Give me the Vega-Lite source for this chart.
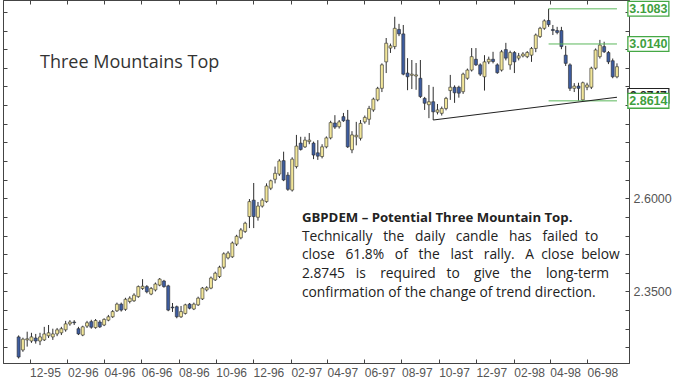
{
  "$schema": "https://vega.github.io/schema/vega-lite/v6.json",
  "width": 626,
  "height": 363,
  "autosize": {"type": "none"},
  "padding": {"left": 3, "top": 0, "right": 71, "bottom": 19},
  "background": "white",
  "config": {"view": {"stroke": "#444", "strokeWidth": 1}, "font": "Liberation Sans"},
  "datasets": {
    "candles": [
      {"d":"1995-11-13","o":2.228,"h":2.232,"l":2.170,"c":2.174},
      {"d":"1995-11-20","o":2.193,"h":2.226,"l":2.188,"c":2.222},
      {"d":"1995-11-27","o":2.220,"h":2.242,"l":2.202,"c":2.223},
      {"d":"1995-12-04","o":2.217,"h":2.239,"l":2.212,"c":2.228},
      {"d":"1995-12-11","o":2.225,"h":2.236,"l":2.210,"c":2.217},
      {"d":"1995-12-18","o":2.217,"h":2.239,"l":2.206,"c":2.228},
      {"d":"1995-12-25","o":2.220,"h":2.255,"l":2.217,"c":2.236},
      {"d":"1996-01-01","o":2.231,"h":2.260,"l":2.225,"c":2.239},
      {"d":"1996-01-08","o":2.228,"h":2.250,"l":2.220,"c":2.236},
      {"d":"1996-01-15","o":2.236,"h":2.252,"l":2.230,"c":2.247},
      {"d":"1996-01-22","o":2.239,"h":2.255,"l":2.233,"c":2.250},
      {"d":"1996-01-29","o":2.247,"h":2.271,"l":2.242,"c":2.263},
      {"d":"1996-02-05","o":2.263,"h":2.273,"l":2.258,"c":2.268},
      {"d":"1996-02-12","o":2.268,"h":2.273,"l":2.260,"c":2.266},
      {"d":"1996-02-19","o":2.250,"h":2.255,"l":2.233,"c":2.236},
      {"d":"1996-02-26","o":2.233,"h":2.258,"l":2.230,"c":2.255},
      {"d":"1996-03-04","o":2.257,"h":2.271,"l":2.252,"c":2.266},
      {"d":"1996-03-11","o":2.269,"h":2.274,"l":2.250,"c":2.254},
      {"d":"1996-03-18","o":2.253,"h":2.276,"l":2.250,"c":2.272},
      {"d":"1996-03-25","o":2.268,"h":2.273,"l":2.252,"c":2.255},
      {"d":"1996-04-01","o":2.260,"h":2.278,"l":2.257,"c":2.275},
      {"d":"1996-04-08","o":2.273,"h":2.287,"l":2.270,"c":2.282},
      {"d":"1996-04-15","o":2.282,"h":2.300,"l":2.279,"c":2.296},
      {"d":"1996-04-22","o":2.298,"h":2.320,"l":2.295,"c":2.316},
      {"d":"1996-04-29","o":2.316,"h":2.320,"l":2.296,"c":2.300},
      {"d":"1996-05-06","o":2.302,"h":2.333,"l":2.298,"c":2.329},
      {"d":"1996-05-13","o":2.323,"h":2.337,"l":2.318,"c":2.332},
      {"d":"1996-05-20","o":2.325,"h":2.345,"l":2.322,"c":2.340},
      {"d":"1996-05-27","o":2.336,"h":2.366,"l":2.333,"c":2.363},
      {"d":"1996-06-03","o":2.358,"h":2.383,"l":2.354,"c":2.364},
      {"d":"1996-06-10","o":2.363,"h":2.367,"l":2.345,"c":2.349},
      {"d":"1996-06-17","o":2.343,"h":2.362,"l":2.340,"c":2.358},
      {"d":"1996-06-24","o":2.354,"h":2.374,"l":2.350,"c":2.370},
      {"d":"1996-07-01","o":2.367,"h":2.386,"l":2.364,"c":2.383},
      {"d":"1996-07-08","o":2.378,"h":2.381,"l":2.360,"c":2.363},
      {"d":"1996-07-15","o":2.365,"h":2.368,"l":2.297,"c":2.300},
      {"d":"1996-07-22","o":2.308,"h":2.319,"l":2.295,"c":2.306},
      {"d":"1996-07-29","o":2.309,"h":2.312,"l":2.278,"c":2.282},
      {"d":"1996-08-05","o":2.282,"h":2.311,"l":2.279,"c":2.296},
      {"d":"1996-08-12","o":2.291,"h":2.317,"l":2.288,"c":2.314},
      {"d":"1996-08-19","o":2.316,"h":2.319,"l":2.302,"c":2.305},
      {"d":"1996-08-26","o":2.303,"h":2.320,"l":2.300,"c":2.316},
      {"d":"1996-09-02","o":2.314,"h":2.336,"l":2.311,"c":2.332},
      {"d":"1996-09-09","o":2.330,"h":2.362,"l":2.327,"c":2.359},
      {"d":"1996-09-16","o":2.354,"h":2.364,"l":2.350,"c":2.360},
      {"d":"1996-09-23","o":2.359,"h":2.390,"l":2.356,"c":2.386},
      {"d":"1996-09-30","o":2.381,"h":2.403,"l":2.378,"c":2.399},
      {"d":"1996-10-07","o":2.390,"h":2.419,"l":2.386,"c":2.415},
      {"d":"1996-10-14","o":2.415,"h":2.455,"l":2.410,"c":2.451},
      {"d":"1996-10-21","o":2.440,"h":2.458,"l":2.436,"c":2.453},
      {"d":"1996-10-28","o":2.443,"h":2.484,"l":2.440,"c":2.480},
      {"d":"1996-11-04","o":2.477,"h":2.502,"l":2.472,"c":2.498},
      {"d":"1996-11-11","o":2.494,"h":2.520,"l":2.490,"c":2.515},
      {"d":"1996-11-18","o":2.511,"h":2.537,"l":2.507,"c":2.533},
      {"d":"1996-11-25","o":2.551,"h":2.598,"l":2.520,"c":2.591},
      {"d":"1996-12-02","o":2.595,"h":2.641,"l":2.520,"c":2.551},
      {"d":"1996-12-09","o":2.549,"h":2.590,"l":2.540,"c":2.579},
      {"d":"1996-12-16","o":2.579,"h":2.600,"l":2.575,"c":2.595},
      {"d":"1996-12-23","o":2.591,"h":2.640,"l":2.588,"c":2.633},
      {"d":"1996-12-30","o":2.627,"h":2.650,"l":2.622,"c":2.647},
      {"d":"1997-01-06","o":2.651,"h":2.685,"l":2.640,"c":2.667},
      {"d":"1997-01-13","o":2.665,"h":2.705,"l":2.660,"c":2.700},
      {"d":"1997-01-20","o":2.701,"h":2.725,"l":2.646,"c":2.649},
      {"d":"1997-01-27","o":2.662,"h":2.670,"l":2.620,"c":2.624},
      {"d":"1997-02-03","o":2.622,"h":2.710,"l":2.618,"c":2.705},
      {"d":"1997-02-10","o":2.685,"h":2.770,"l":2.680,"c":2.740},
      {"d":"1997-02-17","o":2.748,"h":2.765,"l":2.728,"c":2.731},
      {"d":"1997-02-24","o":2.738,"h":2.765,"l":2.735,"c":2.756},
      {"d":"1997-03-03","o":2.752,"h":2.775,"l":2.745,"c":2.756},
      {"d":"1997-03-10","o":2.748,"h":2.752,"l":2.705,"c":2.716},
      {"d":"1997-03-17","o":2.722,"h":2.756,"l":2.703,"c":2.713},
      {"d":"1997-03-24","o":2.712,"h":2.745,"l":2.707,"c":2.738},
      {"d":"1997-03-31","o":2.738,"h":2.766,"l":2.734,"c":2.762},
      {"d":"1997-04-07","o":2.762,"h":2.808,"l":2.758,"c":2.803},
      {"d":"1997-04-14","o":2.802,"h":2.823,"l":2.786,"c":2.791},
      {"d":"1997-04-21","o":2.792,"h":2.810,"l":2.787,"c":2.805},
      {"d":"1997-04-28","o":2.819,"h":2.829,"l":2.805,"c":2.808},
      {"d":"1997-05-05","o":2.810,"h":2.837,"l":2.735,"c":2.738},
      {"d":"1997-05-12","o":2.730,"h":2.780,"l":2.721,"c":2.770},
      {"d":"1997-05-19","o":2.765,"h":2.805,"l":2.742,"c":2.769},
      {"d":"1997-05-26","o":2.761,"h":2.810,"l":2.755,"c":2.801},
      {"d":"1997-06-02","o":2.805,"h":2.822,"l":2.800,"c":2.817},
      {"d":"1997-06-09","o":2.812,"h":2.848,"l":2.797,"c":2.841},
      {"d":"1997-06-16","o":2.837,"h":2.870,"l":2.832,"c":2.866},
      {"d":"1997-06-23","o":2.864,"h":2.899,"l":2.860,"c":2.895},
      {"d":"1997-06-30","o":2.895,"h":2.962,"l":2.885,"c":2.958},
      {"d":"1997-07-07","o":2.966,"h":3.030,"l":2.936,"c":3.016},
      {"d":"1997-07-14","o":3.003,"h":3.015,"l":2.990,"c":3.009},
      {"d":"1997-07-21","o":3.007,"h":3.087,"l":3.000,"c":3.056},
      {"d":"1997-07-28","o":3.053,"h":3.068,"l":3.035,"c":3.041},
      {"d":"1997-08-04","o":3.041,"h":3.065,"l":2.930,"c":2.933},
      {"d":"1997-08-11","o":2.936,"h":2.976,"l":2.890,"c":2.926},
      {"d":"1997-08-18","o":2.930,"h":2.971,"l":2.893,"c":2.933},
      {"d":"1997-08-25","o":2.928,"h":2.963,"l":2.891,"c":2.931},
      {"d":"1997-09-01","o":2.922,"h":2.971,"l":2.869,"c":2.873},
      {"d":"1997-09-08","o":2.868,"h":2.872,"l":2.837,"c":2.855},
      {"d":"1997-09-15","o":2.851,"h":2.904,"l":2.815,"c":2.859},
      {"d":"1997-09-22","o":2.859,"h":2.899,"l":2.810,"c":2.832},
      {"d":"1997-09-29","o":2.831,"h":2.853,"l":2.825,"c":2.837},
      {"d":"1997-10-06","o":2.828,"h":2.846,"l":2.822,"c":2.841},
      {"d":"1997-10-13","o":2.841,"h":2.872,"l":2.836,"c":2.868},
      {"d":"1997-10-20","o":2.889,"h":2.931,"l":2.864,"c":2.898},
      {"d":"1997-10-27","o":2.898,"h":2.903,"l":2.856,"c":2.883},
      {"d":"1997-11-03","o":2.898,"h":2.902,"l":2.870,"c":2.882},
      {"d":"1997-11-10","o":2.886,"h":2.937,"l":2.880,"c":2.933},
      {"d":"1997-11-17","o":2.922,"h":2.948,"l":2.918,"c":2.944},
      {"d":"1997-11-24","o":2.944,"h":3.003,"l":2.940,"c":2.980},
      {"d":"1997-12-01","o":2.973,"h":3.003,"l":2.955,"c":2.958},
      {"d":"1997-12-08","o":2.958,"h":2.962,"l":2.928,"c":2.933},
      {"d":"1997-12-15","o":2.926,"h":2.984,"l":2.889,"c":2.966},
      {"d":"1997-12-22","o":2.966,"h":2.980,"l":2.960,"c":2.973},
      {"d":"1997-12-29","o":2.973,"h":2.993,"l":2.962,"c":2.967},
      {"d":"1998-01-05","o":2.958,"h":2.962,"l":2.934,"c":2.937},
      {"d":"1998-01-12","o":2.944,"h":2.998,"l":2.940,"c":2.993},
      {"d":"1998-01-19","o":2.999,"h":3.017,"l":2.970,"c":2.976},
      {"d":"1998-01-26","o":2.958,"h":2.996,"l":2.945,"c":2.991},
      {"d":"1998-02-02","o":2.991,"h":2.995,"l":2.936,"c":2.966},
      {"d":"1998-02-09","o":2.976,"h":2.990,"l":2.970,"c":2.982},
      {"d":"1998-02-16","o":2.982,"h":2.992,"l":2.978,"c":2.987},
      {"d":"1998-02-23","o":2.980,"h":2.995,"l":2.976,"c":2.991},
      {"d":"1998-03-02","o":2.984,"h":3.006,"l":2.966,"c":3.002},
      {"d":"1998-03-09","o":3.002,"h":3.042,"l":2.992,"c":3.038},
      {"d":"1998-03-16","o":3.034,"h":3.060,"l":3.030,"c":3.056},
      {"d":"1998-03-23","o":3.056,"h":3.080,"l":3.052,"c":3.076},
      {"d":"1998-03-30","o":3.077,"h":3.1083,"l":3.060,"c":3.066},
      {"d":"1998-04-06","o":3.053,"h":3.065,"l":3.038,"c":3.050},
      {"d":"1998-04-13","o":3.050,"h":3.060,"l":3.040,"c":3.045},
      {"d":"1998-04-20","o":3.050,"h":3.060,"l":3.000,"c":3.007},
      {"d":"1998-04-27","o":2.984,"h":3.009,"l":2.955,"c":2.962},
      {"d":"1998-05-04","o":2.958,"h":2.962,"l":2.888,"c":2.895},
      {"d":"1998-05-11","o":2.895,"h":2.909,"l":2.885,"c":2.901},
      {"d":"1998-05-18","o":2.901,"h":2.910,"l":2.8614,"c":2.895},
      {"d":"1998-05-25","o":2.864,"h":2.913,"l":2.8614,"c":2.910},
      {"d":"1998-06-01","o":2.898,"h":2.910,"l":2.890,"c":2.904},
      {"d":"1998-06-08","o":2.898,"h":2.953,"l":2.893,"c":2.949},
      {"d":"1998-06-15","o":2.949,"h":3.002,"l":2.945,"c":2.998},
      {"d":"1998-06-22","o":2.980,"h":3.025,"l":2.975,"c":3.011},
      {"d":"1998-06-29","o":3.007,"h":3.020,"l":2.990,"c":2.993},
      {"d":"1998-07-06","o":2.991,"h":2.995,"l":2.960,"c":2.966},
      {"d":"1998-07-13","o":2.969,"h":2.975,"l":2.922,"c":2.926},
      {"d":"1998-07-20","o":2.926,"h":2.962,"l":2.922,"c":2.953}
    ],
    "levels": [
      {"level": 3.1083, "label": "3.1083"},
      {"level": 3.0140, "label": "3.0140"},
      {"level": 2.8614, "label": "2.8614"}
    ],
    "hidden": [
      {"level": 2.8747, "label": "2.8747"}
    ],
    "trend": [
      {"d": "1997-09-22", "p": 2.810},
      {"d": "1998-07-20", "p": 2.871}
    ]
  },
  "resolve": {"axis": {"x": "independent", "y": "independent"}},
  "layer": [
    {
      "data": {"name": "candles"},
      "mark": {"type": "rule", "color": "#2e2e2e", "strokeWidth": 1},
      "encoding": {
        "x": {
          "field": "d", "type": "temporal",
          "scale": {"type": "utc", "domain": [{"year": 1995, "month": 10, "date": 26, "hours": 14, "utc": true}, {"year": 1998, "month": 7, "date": 31, "hours": 12, "utc": true}]},
          "axis": {
            "orient": "bottom", "title": null, "grid": false,
            "values": [
              {"year": 1995, "month": 12, "date": 1, "utc": true},
              {"year": 1996, "month": 2, "date": 1, "utc": true},
              {"year": 1996, "month": 4, "date": 1, "utc": true},
              {"year": 1996, "month": 6, "date": 1, "utc": true},
              {"year": 1996, "month": 8, "date": 1, "utc": true},
              {"year": 1996, "month": 10, "date": 1, "utc": true},
              {"year": 1996, "month": 12, "date": 1, "utc": true},
              {"year": 1997, "month": 2, "date": 1, "utc": true},
              {"year": 1997, "month": 4, "date": 1, "utc": true},
              {"year": 1997, "month": 6, "date": 1, "utc": true},
              {"year": 1997, "month": 8, "date": 1, "utc": true},
              {"year": 1997, "month": 10, "date": 1, "utc": true},
              {"year": 1997, "month": 12, "date": 1, "utc": true},
              {"year": 1998, "month": 2, "date": 1, "utc": true},
              {"year": 1998, "month": 4, "date": 1, "utc": true},
              {"year": 1998, "month": 6, "date": 1, "utc": true}
            ],
            "labelExpr": "utcFormat(datum.value, '%m-%y')",
            "labelAlign": "left", "labelBaseline": "top", "labelPadding": 8, "tickSize": -4,
            "tickColor": "#444", "domainColor": "#444", "labelColor": "#555",
            "labelFont": "Liberation Sans", "labelFontSize": 12,
            "labelFlush": false, "labelOverlap": false
          }
        },
        "y": {
          "field": "l", "type": "quantitative",
          "scale": {"domain": [2.158, 3.132], "zero": false, "nice": false},
          "axis": {
            "orient": "right", "title": null, "grid": false,
            "values": [2.2, 2.25, 2.3, 2.35, 2.4, 2.45, 2.5, 2.55, 2.6, 2.65, 2.7, 2.75, 2.8, 2.85, 2.9, 2.95, 3.0, 3.05, 3.1],
            "labelExpr": "(datum.value == 2.35 || datum.value == 2.6) ? format(datum.value, '.4f') : ''",
            "tickSize": -4, "labelPadding": 8,
            "tickColor": "#444", "domainColor": "#444", "labelColor": "#555",
            "labelFont": "Liberation Sans", "labelFontSize": 12.5, "labelFlush": false, "labelOverlap": false
          }
        },
        "y2": {"field": "h"}
      }
    },
    {
      "data": {"name": "candles"},
      "mark": {"type": "bar", "size": 3, "stroke": "#2b2b2b", "strokeWidth": 0.6},
      "encoding": {
        "x": {
          "field": "d", "type": "temporal",
          "scale": {"type": "utc", "domain": [{"year": 1995, "month": 10, "date": 26, "hours": 14, "utc": true}, {"year": 1998, "month": 7, "date": 31, "hours": 12, "utc": true}]},
          "axis": {
            "orient": "top", "title": null, "grid": false, "labels": false,
            "values": [
              {"year": 1995, "month": 12, "date": 1, "utc": true},
              {"year": 1996, "month": 2, "date": 1, "utc": true},
              {"year": 1996, "month": 4, "date": 1, "utc": true},
              {"year": 1996, "month": 6, "date": 1, "utc": true},
              {"year": 1996, "month": 8, "date": 1, "utc": true},
              {"year": 1996, "month": 10, "date": 1, "utc": true},
              {"year": 1996, "month": 12, "date": 1, "utc": true},
              {"year": 1997, "month": 2, "date": 1, "utc": true},
              {"year": 1997, "month": 4, "date": 1, "utc": true},
              {"year": 1997, "month": 6, "date": 1, "utc": true},
              {"year": 1997, "month": 8, "date": 1, "utc": true},
              {"year": 1997, "month": 10, "date": 1, "utc": true},
              {"year": 1997, "month": 12, "date": 1, "utc": true},
              {"year": 1998, "month": 2, "date": 1, "utc": true},
              {"year": 1998, "month": 4, "date": 1, "utc": true},
              {"year": 1998, "month": 6, "date": 1, "utc": true}
            ],
            "tickSize": -4, "tickColor": "#444", "domainColor": "#444"
          }
        },
        "y": {
          "field": "o", "type": "quantitative",
          "scale": {"domain": [2.158, 3.132], "zero": false, "nice": false},
          "axis": {
            "orient": "left", "title": null, "grid": false, "labels": false,
            "values": [2.2, 2.25, 2.3, 2.35, 2.4, 2.45, 2.5, 2.55, 2.6, 2.65, 2.7, 2.75, 2.8, 2.85, 2.9, 2.95, 3.0, 3.05, 3.1],
            "tickSize": -4, "tickColor": "#444", "domainColor": "#444"
          }
        },
        "y2": {"field": "c"},
        "fill": {"condition": {"test": "datum.c >= datum.o", "value": "#f2e69a"}, "value": "#3d5c9f"}
      }
    },
    {
      "data": {"name": "levels"},
      "mark": {"type": "rule", "color": "#5cb85c", "strokeWidth": 1},
      "encoding": {
        "x": {"datum": {"year": 1998, "month": 3, "date": 30, "utc": true}, "type": "temporal",
              "scale": {"type": "utc", "domain": [{"year": 1995, "month": 10, "date": 26, "hours": 14, "utc": true}, {"year": 1998, "month": 7, "date": 31, "hours": 12, "utc": true}]}, "axis": null},
        "x2": {"datum": {"year": 1998, "month": 7, "date": 20, "utc": true}},
        "y": {"field": "level", "type": "quantitative", "scale": {"domain": [2.158, 3.132], "zero": false, "nice": false}, "axis": null}
      }
    },
    {
      "data": {"name": "trend"},
      "mark": {"type": "line", "color": "#222", "strokeWidth": 1.2},
      "encoding": {
        "x": {"field": "d", "type": "temporal",
              "scale": {"type": "utc", "domain": [{"year": 1995, "month": 10, "date": 26, "hours": 14, "utc": true}, {"year": 1998, "month": 7, "date": 31, "hours": 12, "utc": true}]}, "axis": null},
        "y": {"field": "p", "type": "quantitative", "scale": {"domain": [2.158, 3.132], "zero": false, "nice": false}, "axis": null}
      }
    },
    {
      "data": {"name": "hidden"},
      "mark": {"type": "point", "shape": "M-1,-0.36H1V0.36H-1Z", "size": 1681, "filled": true, "fill": "white", "stroke": "#222", "strokeWidth": 1.2, "opacity": 1},
      "encoding": {
        "x": {"datum": {"year": 1998, "month": 9, "date": 9, "hours": 10, "utc": true}, "type": "temporal",
              "scale": {"type": "utc", "domain": [{"year": 1995, "month": 10, "date": 26, "hours": 14, "utc": true}, {"year": 1998, "month": 7, "date": 31, "hours": 12, "utc": true}]}, "axis": null},
        "y": {"field": "level", "type": "quantitative", "scale": {"domain": [2.158, 3.132], "zero": false, "nice": false}, "axis": null}
      }
    },
    {
      "data": {"name": "hidden"},
      "mark": {"type": "text", "color": "#222", "font": "Liberation Sans", "fontWeight": "bold", "fontSize": 12, "align": "center", "baseline": "middle"},
      "encoding": {
        "x": {"datum": {"year": 1998, "month": 9, "date": 9, "hours": 10, "utc": true}, "type": "temporal",
              "scale": {"type": "utc", "domain": [{"year": 1995, "month": 10, "date": 26, "hours": 14, "utc": true}, {"year": 1998, "month": 7, "date": 31, "hours": 12, "utc": true}]}, "axis": null},
        "y": {"field": "level", "type": "quantitative", "scale": {"domain": [2.158, 3.132], "zero": false, "nice": false}, "axis": null},
        "text": {"field": "label"}
      }
    },
    {
      "data": {"name": "levels"},
      "mark": {"type": "point", "shape": "M-1,-0.36H1V0.36H-1Z", "size": 1681, "filled": true, "fill": "white", "stroke": "#45a845", "strokeWidth": 1.3, "opacity": 1},
      "encoding": {
        "x": {"datum": {"year": 1998, "month": 9, "date": 9, "hours": 10, "utc": true}, "type": "temporal",
              "scale": {"type": "utc", "domain": [{"year": 1995, "month": 10, "date": 26, "hours": 14, "utc": true}, {"year": 1998, "month": 7, "date": 31, "hours": 12, "utc": true}]}, "axis": null},
        "y": {"field": "level", "type": "quantitative", "scale": {"domain": [2.158, 3.132], "zero": false, "nice": false}, "axis": null}
      }
    },
    {
      "data": {"name": "levels"},
      "mark": {"type": "text", "color": "#3f9f3f", "font": "Liberation Sans", "fontWeight": "bold", "fontSize": 12.5, "align": "center", "baseline": "middle"},
      "encoding": {
        "x": {"datum": {"year": 1998, "month": 9, "date": 9, "hours": 10, "utc": true}, "type": "temporal",
              "scale": {"type": "utc", "domain": [{"year": 1995, "month": 10, "date": 26, "hours": 14, "utc": true}, {"year": 1998, "month": 7, "date": 31, "hours": 12, "utc": true}]}, "axis": null},
        "y": {"field": "level", "type": "quantitative", "scale": {"domain": [2.158, 3.132], "zero": false, "nice": false}, "axis": null},
        "text": {"field": "label"}
      }
    },
    {
      "data": {"values": [{"note": "Three Mountains Top"}]},
      "mark": {"type": "text", "color": "#333", "font": "Open Sans", "fontSize": 18, "align": "left", "baseline": "alphabetic"},
      "encoding": {
        "x": {"datum": {"year": 1995, "month": 12, "date": 18, "utc": true}, "type": "temporal",
              "scale": {"type": "utc", "domain": [{"year": 1995, "month": 10, "date": 26, "hours": 14, "utc": true}, {"year": 1998, "month": 7, "date": 31, "hours": 12, "utc": true}]}, "axis": null},
        "y": {"datum": 2.9495, "type": "quantitative", "scale": {"domain": [2.158, 3.132], "zero": false, "nice": false}, "axis": null},
        "text": {"field": "note"}
      }
    },
    {
      "data": {"values": [{"note": "GBPDEM – Potential Three Mountain Top."}]},
      "mark": {"type": "text", "color": "#222", "font": "Open Sans", "fontWeight": "bold", "fontSize": 13.2, "align": "left", "baseline": "alphabetic"},
      "encoding": {
        "x": {"datum": {"year": 1997, "month": 2, "date": 19, "utc": true}, "type": "temporal",
              "scale": {"type": "utc", "domain": [{"year": 1995, "month": 10, "date": 26, "hours": 14, "utc": true}, {"year": 1998, "month": 7, "date": 31, "hours": 12, "utc": true}]}, "axis": null},
        "y": {"datum": 2.537, "type": "quantitative", "scale": {"domain": [2.158, 3.132], "zero": false, "nice": false}, "axis": null},
        "text": {"field": "note"}
      }
    },
    {
      "data": {"values": [{"note": ["Technically\u00a0\u00a0 the\u00a0\u00a0 daily\u00a0\u00a0 candle\u00a0\u00a0 has\u00a0\u00a0 failed\u00a0 to", "close\u00a0\u00a0 61.8%\u00a0\u00a0 of\u00a0\u00a0 the\u00a0\u00a0 last\u00a0\u00a0 rally.\u00a0\u00a0 A\u00a0 close\u00a0 below", "2.8745\u00a0\u00a0 is\u00a0\u00a0\u00a0 required\u00a0\u00a0 to\u00a0\u00a0\u00a0 give\u00a0\u00a0 the\u00a0\u00a0\u00a0 long-term", "confirmation of the change of trend direction."]}]},
      "mark": {"type": "text", "color": "#222", "font": "Open Sans", "fontSize": 13.8, "align": "left", "baseline": "alphabetic", "lineHeight": 18.6},
      "encoding": {
        "x": {"datum": {"year": 1997, "month": 2, "date": 19, "utc": true}, "type": "temporal",
              "scale": {"type": "utc", "domain": [{"year": 1995, "month": 10, "date": 26, "hours": 14, "utc": true}, {"year": 1998, "month": 7, "date": 31, "hours": 12, "utc": true}]}, "axis": null},
        "y": {"datum": 2.4860, "type": "quantitative", "scale": {"domain": [2.158, 3.132], "zero": false, "nice": false}, "axis": null},
        "text": {"field": "note"}
      }
    }
  ]
}
